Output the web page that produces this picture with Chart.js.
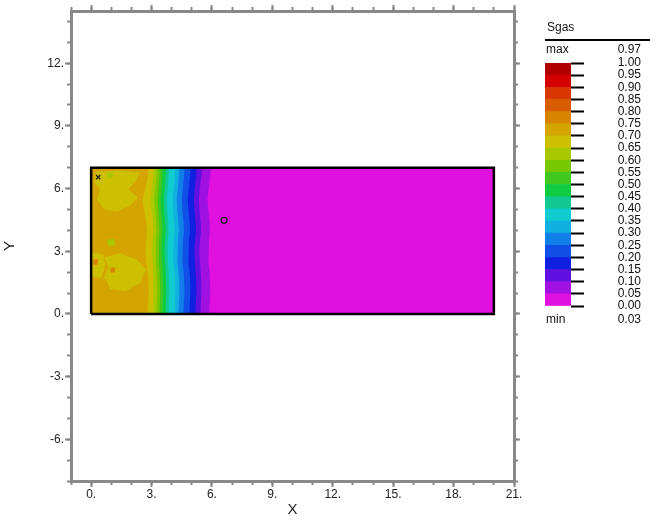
<!DOCTYPE html>
<html>
<head>
<meta charset="utf-8">
<script src="https://cdn.jsdelivr.net/npm/chart.js@4.4.0/dist/chart.umd.min.js"></script>
<style>
  body { margin: 0; background: #fff; font-family: "Liberation Sans", Arial, sans-serif; }
  #wrap { position: relative; width: 650px; height: 520px; }
  #main { position: absolute; left: 0; top: 0; }
  #bar { position: absolute; left: 545px; top: 55px; }
  .t { position: absolute; font-size: 12px; line-height: 14px; color: #111; }
</style>
</head>
<body>
<div id="wrap">
  <canvas id="main" width="650" height="520"></canvas>
  <canvas id="bar" width="96" height="262"></canvas>
  <div class="t" style="left:547px;top:20px">Sgas</div>
  <div style="position:absolute;left:545px;top:39px;width:105px;height:2px;background:#000"></div>
  <div class="t" style="left:546px;top:42px">max</div>
  <div class="t" style="left:590px;top:42px;width:51px;text-align:right">0.97</div>
  <div class="t" style="left:546px;top:312px">min</div>
  <div class="t" style="left:590px;top:312px;width:51px;text-align:right">0.03</div>
</div>
<script>
// colour scale, lowest band first (0.00-0.05 ... 0.95-1.00)
const legendLevels = [0, 0.05, 0.1, 0.15, 0.2, 0.25, 0.3, 0.35, 0.4, 0.45, 0.5,
                      0.55, 0.6, 0.65, 0.7, 0.75, 0.8, 0.85, 0.9, 0.95, 1.0];
const bandColors = ["#e010e0", "#a010e0", "#6010e0", "#1020e0", "#1050e8", "#1080e8",
                    "#10b0e0", "#10ccd0", "#10c890", "#10cc40", "#40c820", "#78c800",
                    "#a8c800", "#ccc000", "#d4a400", "#d88400", "#d85c00", "#d83800",
                    "#d40000", "#b00000"];

// reservoir box
const boxX = [0, 0, 20, 20, 0];
const boxY = [0, 7, 7, 0, 0];

// contour edges: x where Sgas drops below each level, sampled down the box
const edgeY = [7, 6.5, 6, 5.5, 5, 4.5, 4, 3.5, 3, 2.5, 2, 1.5, 1, 0.5, 0];
const edgeLevels = [0.05, 0.1, 0.15, 0.2, 0.25, 0.3, 0.35, 0.4, 0.45, 0.5, 0.55, 0.6, 0.65, 0.7];
const edgeX = [
  [5.95, 5.90, 5.84, 5.78, 5.82, 5.87, 5.90, 5.85, 5.81, 5.84, 5.88, 5.91, 5.92, 5.89, 5.86],
  [5.50, 5.46, 5.40, 5.35, 5.38, 5.43, 5.46, 5.41, 5.37, 5.41, 5.44, 5.47, 5.48, 5.45, 5.43],
  [5.24, 5.20, 5.15, 5.10, 5.13, 5.18, 5.21, 5.16, 5.12, 5.15, 5.19, 5.22, 5.23, 5.20, 5.18],
  [4.94, 4.90, 4.85, 4.80, 4.83, 4.88, 4.91, 4.86, 4.82, 4.85, 4.89, 4.92, 4.93, 4.90, 4.88],
  [4.64, 4.60, 4.55, 4.50, 4.53, 4.58, 4.61, 4.56, 4.52, 4.55, 4.59, 4.62, 4.63, 4.60, 4.58],
  [4.38, 4.35, 4.30, 4.25, 4.28, 4.33, 4.36, 4.31, 4.27, 4.30, 4.34, 4.37, 4.38, 4.36, 4.34],
  [4.18, 4.15, 4.10, 4.05, 4.08, 4.12, 4.15, 4.10, 4.07, 4.10, 4.14, 4.17, 4.18, 4.16, 4.14],
  [3.88, 3.85, 3.80, 3.75, 3.78, 3.82, 3.85, 3.81, 3.79, 3.82, 3.86, 3.88, 3.89, 3.87, 3.85],
  [3.71, 3.69, 3.65, 3.60, 3.63, 3.67, 3.70, 3.66, 3.64, 3.67, 3.70, 3.72, 3.73, 3.71, 3.70],
  [3.56, 3.54, 3.50, 3.45, 3.48, 3.52, 3.55, 3.51, 3.49, 3.52, 3.55, 3.57, 3.58, 3.56, 3.55],
  [3.41, 3.39, 3.35, 3.30, 3.33, 3.37, 3.40, 3.36, 3.34, 3.37, 3.40, 3.42, 3.43, 3.41, 3.40],
  [3.26, 3.24, 3.20, 3.15, 3.18, 3.22, 3.25, 3.21, 3.19, 3.22, 3.25, 3.27, 3.28, 3.26, 3.25],
  [3.10, 3.08, 3.02, 2.96, 3.00, 3.06, 3.08, 3.04, 3.02, 3.05, 3.08, 3.10, 3.11, 3.09, 3.08],
  [2.85, 2.80, 2.70, 2.55, 2.62, 2.72, 2.78, 2.74, 2.70, 2.74, 2.80, 2.84, 2.85, 2.82, 2.80]
];

// patches inside the swept zone: level and [x,y] outline
const patchLevels = [0.65, 0.65, 0.65, 0.6, 0.6, 0.75, 0.75];
const patchPts = [
  [[0.25, 6.81], [1.44, 6.86], [2.44, 6.76], [2.19, 6.33], [1.84, 5.95], [2.34, 5.57], [1.94, 5.19],
   [1.34, 4.90], [0.65, 5.00], [0.30, 5.48], [0.45, 5.95], [0.15, 6.33]],
  [[0.65, 2.71], [1.44, 2.90], [2.24, 2.62], [2.73, 2.14], [2.44, 1.48], [1.69, 1.10], [0.95, 1.19],
   [0.65, 1.76], [0.85, 2.24]],
  [[0.05, 2.95], [0.60, 2.85], [0.70, 2.30], [0.50, 1.70], [0.05, 1.80]],
  [[0.80, 3.55], [1.15, 3.60], [1.20, 3.30], [0.85, 3.25]],
  [[0.80, 6.75], [1.10, 6.78], [1.05, 6.50], [0.80, 6.50]],
  [[0.10, 2.60], [0.35, 2.62], [0.32, 2.35], [0.10, 2.35]],
  [[0.95, 2.20], [1.20, 2.22], [1.18, 1.98], [0.95, 1.98]]
];

// well markers
const injX = [0.35], injY = [6.55];
const prodX = [6.6], prodY = [4.48];

const xTicks = { min: -1, max: 21 };
const yTicks = { min: -8, max: 14.5 };

Chart.defaults.font.family = '"Liberation Sans", Arial, sans-serif';
Chart.defaults.font.size = 12;

const gray = "#888";

function bandColor(level) {
  const i = legendLevels.findIndex(v => Math.abs(v - level) < 1e-9);
  return bandColors[i];
}

const datasets = [];
function addPoly(pts, color) {
  datasets.push({
    type: "line", data: pts, backgroundColor: color, borderWidth: 0,
    pointRadius: 0, fill: "shape", tension: 0, xAxisID: "x", yAxisID: "y"
  });
}

// background band: whole box at lowest level
addPoly(boxX.map((x, i) => ({ x, y: boxY[i] })), bandColor(0));
edgeLevels.forEach((lev, k) => {
  const pts = [{ x: 0, y: 0 }, { x: 0, y: 7 }];
  edgeY.forEach((y, j) => pts.push({ x: edgeX[k][j], y }));
  pts.push({ x: 0, y: 0 });
  addPoly(pts, bandColor(lev));
});
patchPts.forEach((p, k) => {
  const pts = p.map(([x, y]) => ({ x, y }));
  pts.push(pts[0]);
  addPoly(pts, bandColor(patchLevels[k]));
});
datasets.push({
  type: "line", data: boxX.map((x, i) => ({ x, y: boxY[i] })), borderColor: "#000",
  borderWidth: 2.5, pointRadius: 0, fill: false, tension: 0, xAxisID: "x", yAxisID: "y"
});
datasets.push({
  type: "scatter", data: injX.map((x, i) => ({ x, y: injY[i] })), pointStyle: "crossRot",
  pointRadius: 3, borderColor: "#222", borderWidth: 1.3, xAxisID: "x", yAxisID: "y"
});
datasets.push({
  type: "scatter", data: prodX.map((x, i) => ({ x, y: prodY[i] })), pointStyle: "circle",
  pointRadius: 3, borderColor: "#222", backgroundColor: "rgba(0,0,0,0)", borderWidth: 1.2,
  xAxisID: "x", yAxisID: "y"
});
// later datasets on top
datasets.forEach((d, i) => { d.order = datasets.length - i; });

function axis(pos, range, step, tl, size, major, extra) {
  const horiz = pos === "top" || pos === "bottom";
  return Object.assign({
    type: "linear", position: pos, min: range.min, max: range.max, weight: major ? 1 : 0,
    ticks: { stepSize: step, includeBounds: false, display: false, autoSkip: false },
    grid: { drawOnChartArea: false, tickLength: tl, tickColor: gray, tickWidth: 2 },
    border: major ? { display: true, color: gray, width: 3 } : { display: false },
    afterFit: s => { if (horiz) s.height = size; else s.width = size; }
  }, extra || {});
}

new Chart("main", {
  type: "line",
  data: { datasets },
  options: {
    responsive: false, animation: false, events: [],
    layout: { padding: 0 },
    plugins: { legend: { display: false }, tooltip: { enabled: false } },
    scales: {
      x: axis("bottom", xTicks, 3, 6, 39, true, {
        ticks: { stepSize: 3, includeBounds: false, autoSkip: false, maxRotation: 0, padding: 0,
                 color: "#222", callback: v => v + "." },
        title: { display: true, text: "X", font: { size: 15 }, color: "#222", padding: { top: 0, bottom: 1 } }
      }),
      xm: axis("bottom", xTicks, 1, 4, 0, false),
      xt: axis("top", xTicks, 3, 6, 11, true),
      xtm: axis("top", xTicks, 1, 4, 0, false),
      y: axis("left", yTicks, 3, 6, 71, true, {
        ticks: { stepSize: 3, includeBounds: false, autoSkip: false, padding: 1,
                 color: "#222", callback: v => v + "." },
        title: { display: true, text: "Y", font: { size: 15 }, color: "#222", padding: { top: 1, bottom: 0 } }
      }),
      ym: axis("left", yTicks, 1, 4, 0, false),
      yr: axis("right", yTicks, 3, 6, 136, true),
      yrm: axis("right", yTicks, 1, 4, 0, false)
    }
  }
});

// colour bar
new Chart("bar", {
  type: "bar",
  data: {
    labels: [""],
    datasets: bandColors.map((c, i) => ({
      data: [legendLevels[i + 1] - legendLevels[i]], backgroundColor: c, borderWidth: 0,
      barPercentage: 1, categoryPercentage: 1
    }))
  },
  options: {
    responsive: false, animation: false, events: [],
    layout: { padding: { top: 8, bottom: 11, left: 0, right: 0 } },
    plugins: { legend: { display: false }, tooltip: { enabled: false } },
    scales: {
      x: { display: false, stacked: true },
      y: {
        stacked: true, position: "right", min: 0, max: 1,
        ticks: { stepSize: 0.05, autoSkip: false, crossAlign: "far", padding: 27, color: "#111",
                 callback: v => v.toFixed(2) },
        grid: { drawOnChartArea: false, tickLength: 13, tickColor: "#000", tickWidth: 2 },
        border: { display: false },
        afterFit: s => { s.width = 70; s.paddingTop = 0; s.paddingBottom = 0; }
      }
    }
  }
});
</script>
</body>
</html>
